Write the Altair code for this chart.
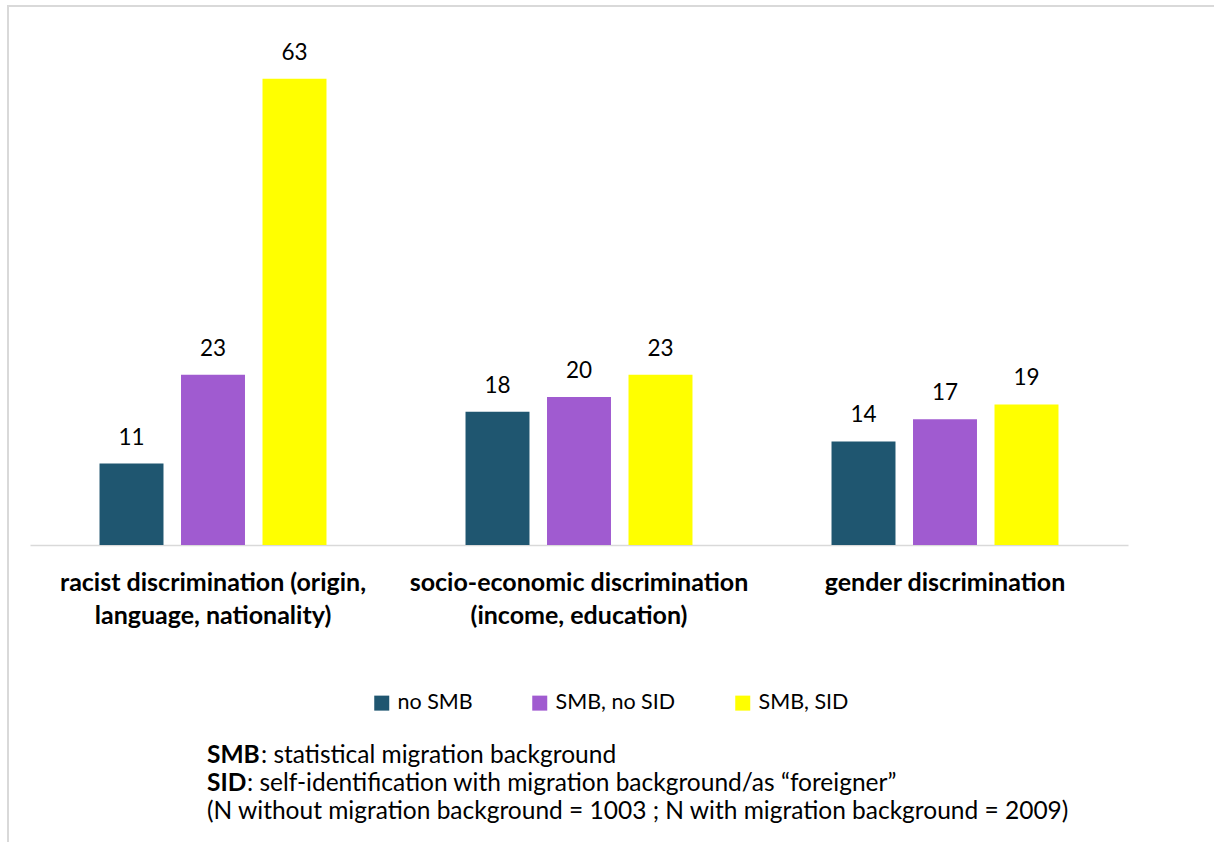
import altair as alt
import pandas as pd

categories = [
    "racist discrimination (origin,|language, nationality)",
    "socio-economic discrimination|(income, education)",
    "gender discrimination",
]
groups = ["no SMB", "SMB, no SID", "SMB, SID"]
no_smb = [11, 18, 14]
smb_no_sid = [23, 20, 17]
smb_sid = [63, 23, 19]
colors = ["#1F5670", "#A05BD0", "#FFFF00"]

rows = []
for series_name, vals in zip(groups, [no_smb, smb_no_sid, smb_sid]):
    for c, v in zip(categories, vals):
        rows.append({"category": c, "group": series_name, "value": v})
df = pd.DataFrame(rows)

FONT = "Lato"

x_enc = alt.X(
    "category:N",
    sort=categories,
    scale=alt.Scale(paddingInner=0, paddingOuter=0),
    axis=alt.Axis(
        title=None,
        labelAngle=0,
        labelFont=FONT,
        labelFontSize=25,
        labelFontWeight="bold",
        labelColor="black",
        labelPadding=25,
        labelLineHeight=33,
        labelBaseline="top",
        labelLimit=0,
        labelExpr="split(datum.label, '|')",
        ticks=False,
        domainColor="#d9d9d9",
        domainWidth=1.5,
    ),
)
xo_enc = alt.XOffset(
    "group:N", sort=groups, scale=alt.Scale(paddingInner=0.215, paddingOuter=0.853)
)
y_enc = alt.Y("value:Q", scale=alt.Scale(domain=[0, 70]), axis=None)

base = alt.Chart(df)

bars = base.mark_bar().encode(
    x=x_enc,
    xOffset=xo_enc,
    y=y_enc,
    color=alt.Color(
        "group:N",
        sort=groups,
        scale=alt.Scale(domain=groups, range=colors),
        legend=alt.Legend(
            title=None,
            orient="none",
            direction="horizontal",
            legendX=341,
            legendY=665,
            symbolType="square",
            symbolSize=225,
            symbolStrokeWidth=0,
            symbolOpacity=1,
            labelFont=FONT,
            labelFontSize=21.5,
            labelColor="black",
            columnPadding=56,
            labelOffset=5,
        ),
    ),
)

labels = base.mark_text(
    baseline="alphabetic", dy=-19, font=FONT, fontSize=22.5, color="black"
).encode(x=x_enc, xOffset=xo_enc, y=y_enc, text="value:Q")

border = base.mark_rect(fill=None, stroke="#d9d9d9", strokeWidth=1.5).encode(
    x=alt.value(-22), x2=alt.value(1200), y=alt.value(-21), y2=alt.value(900)
)

def note(txt, x, y, bold=False):
    return alt.Chart(pd.DataFrame({"t": [txt]})).mark_text(
        align="left",
        baseline="middle",
        font=FONT,
        fontSize=24.5,
        fontWeight="bold" if bold else "normal",
        color="black",
    ).encode(text="t:N", x=alt.value(x), y=alt.value(y))

notes = [
    note("SMB", 177, 729, True),
    note(": statistical migration background", 231, 729),
    note("SID", 177, 757, True),
    note(": self-identification with migration background/as \u201cforeigner\u201d", 217, 757),
    note("(N without migration background = 1003 ; N with migration background = 2009)", 177, 785),
]

chart = (
    alt.layer(border, bars, labels, *notes)
    .properties(
        width=1098,
        height=518,
        background="white",
        autosize=alt.AutoSizeParams(type="none"),
        padding={"left": 30, "top": 27, "right": 86, "bottom": 297},
    )
    .configure_view(strokeWidth=0, stroke="transparent")
)

chart.save("out.html", embed_options={"renderer": "svg", "actions": False})
